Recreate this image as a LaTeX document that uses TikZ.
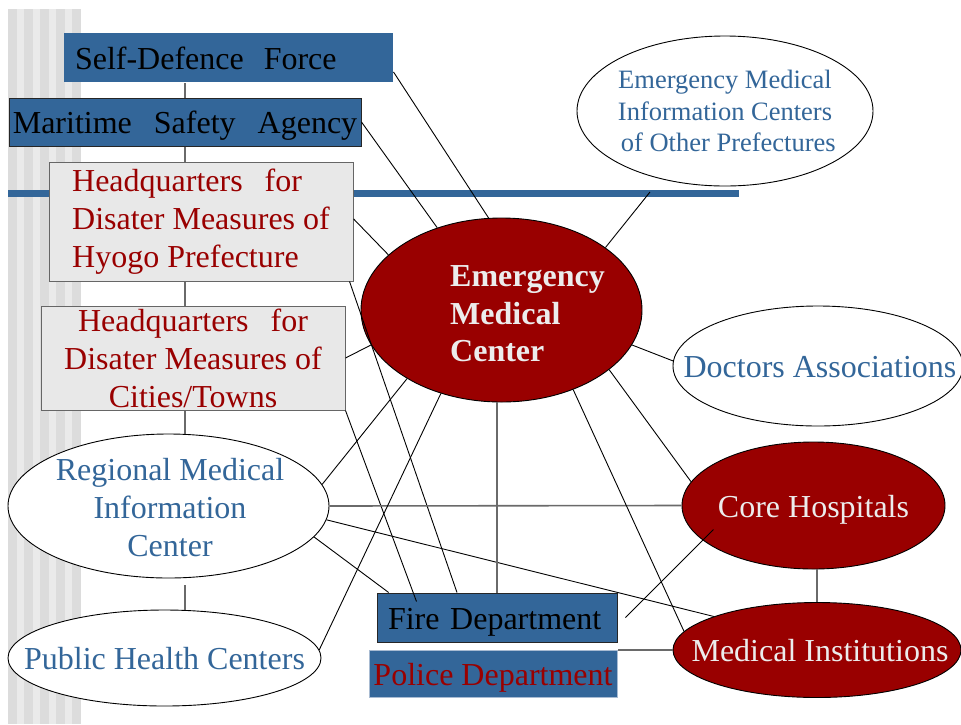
\documentclass[tikz,border=0pt]{standalone}
\usepackage{fontspec}
\setmainfont{Liberation Serif}
\usepackage{tikz}
\usetikzlibrary{shapes.geometric, calc}
\definecolor{pptblue}{HTML}{336699}
\definecolor{pptred}{HTML}{990000}
\definecolor{boxgray}{HTML}{E8E8E8}
\definecolor{stripedark}{HTML}{DCDCDC}
\definecolor{stripelight}{HTML}{EAEAEA}
\definecolor{textwhite}{HTML}{ECECEC}
\definecolor{linkgray}{HTML}{6A6A6A}
\definecolor{policeedge}{HTML}{A8BBD2}

\begin{document}
\begin{tikzpicture}[x=1pt, y=-1pt,
    font=\fontsize{32}{38}\selectfont,
    box/.style={rectangle, draw, line width=1pt, inner xsep=2pt, inner ysep=2pt},
    oneline/.style={text height=23pt, text depth=0pt},
    oval/.style={ellipse, draw=black, line width=0.9pt, inner sep=0pt},
    bluetxt/.style={text=pptblue, align=center},
    whitetxt/.style={text=textwhite, align=center},
    link/.style={draw=black, line width=0.9pt},
    chain/.style={draw=linkgray, line width=1.6pt}
]

\useasboundingbox (0,0) rectangle (961,724);
\clip (0,0) rectangle (961,724);

\fill[stripedark] (8,9) rectangle (81,724);
\foreach \x in {16.7,32.7,48.7,64.7} \fill[stripelight] (\x,9) rectangle ++(7.7,715);
\fill[pptblue] (8,190) rectangle (739,197);

\node[box, oneline, fill=pptblue, draw=none, text width=307pt, align=left, inner xsep=11pt, minimum height=49] (sdf) at (228.5,57.5) {Self-Defence\hspace{20pt}Force};
\node[box, oneline, fill=pptblue, draw=black!85, minimum width=352, minimum height=48] (msa) at (185,122) {Maritime\hspace{22pt}Safety\hspace{22pt}Agency};
\node[box, fill=boxgray, draw=black!60, text=pptred, align=left, minimum width=304, minimum height=119] (hq1) at (201,221.5) {Headquarters\hspace{22pt}for\\Disater Measures of\\Hyogo Prefecture};
\node[box, fill=boxgray, draw=black!60, text=pptred, align=center, inner ysep=0pt, minimum width=304, minimum height=104] (hq2) at (193,358) {Headquarters\hspace{22pt}for\\Disater Measures of\\Cities/Towns};

\node[oval, fill=white, minimum width=321, minimum height=144, label={[bluetxt, xshift=1.5pt, yshift=-2pt]center:{Regional Medical\\Information\\Center}}] (rmic) at (168.5,506) {};
\node[oval, fill=white, minimum width=313, minimum height=96, label={[bluetxt, oneline]center:{Public Health Centers}}] (phc) at (164.5,658) {};

\node[oval, fill=pptred, minimum width=281, minimum height=184, label={[whitetxt, align=left, font=\fontsize{32}{37.5}\selectfont\bfseries, xshift=26pt, yshift=-4pt]center:{Emergency\\Medical\\Center}}] (emc) at (501.5,310) {};
\node[oval, fill=white, minimum width=296, minimum height=150, label={[bluetxt, font=\fontsize{26.5}{31.5}\selectfont]center:{Emergency Medical\\Information Centers\\\ of Other Prefectures}}] (emio) at (725,111) {};
\node[oval, fill=white, minimum width=290, minimum height=120, label={[bluetxt, oneline, xshift=2pt]center:{Doctors Associations}}] (doc) at (818,366) {};
\node[oval, fill=pptred, minimum width=263, minimum height=127, label={[whitetxt, oneline]center:{Core Hospitals}}] (core) at (813.5,505.5) {};
\node[oval, fill=pptred, minimum width=288, minimum height=95, label={[whitetxt, oneline, xshift=3pt]center:{Medical Institutions}}] (med) at (817,650) {};

\node[box, oneline, fill=pptblue, draw=black!85, text width=218pt, align=left, inner xsep=11pt, minimum height=49] (fire) at (497,617.5) {Fire Department};
\node[box, oneline, fill=pptblue, draw=policeedge, text=pptred, minimum width=248, minimum height=47] (police) at (493,673.5) {Police Department};

\draw[chain] (msa.north) -- (msa.north |- sdf.south);
\draw[chain] (msa.south) -- (msa.south |- hq1.north);
\draw[chain] (hq1.south -| msa.south) -- (hq2.north -| msa.south);
\draw[chain] (hq2.south -| msa.south) -- (rmic.north -| msa.south);
\coordinate (phcA) at ($(phc.north -| msa.south)+(0,-25)$);
\draw[chain] (phc.north -| msa.south) -- (phcA);

\draw[link] (sdf.-5.4) -- (emc.98.3);
\draw[link] (msa.east) -- (emc.128.2);
\draw[link] (hq1.1.7) -- (emc.154.4);
\draw[link] (hq1.-22.8) -- (fire.148.5);
\draw[link] (hq2.east) -- (emc.195.5);
\coordinate (fireA) at ($(fire.north west)+(40,9)$);
\draw[link] (hq2.south east) -- (fireA);
\draw[link] (rmic.8.9) -- (emc.216.5);
\draw[chain] (rmic.east) -- (core.west);
\draw[link] (rmic.-5.7) -- (med.162);
\draw[link] (rmic.-12.5) -- (fire.167.7);
\draw[link] (phc.3.7) -- (emc.234.2);
\draw[chain] (fire.north) -- (fire.north |- emc.south);
\draw[link] (emc.-48.4) -- (med.172.8);
\draw[link] (emc.-29.2) -- (core.169.3);
\draw[link] (emc.-15.3) -- (doc.178);
\coordinate (barA) at (650,192);
\draw[link] (emc.31.5) -- (barA);
\coordinate (coreA) at ($(core.center)+(-100,24)$);
\coordinate (fireB) at ($(fire.east)+(8,0)$);
\draw[link] (coreA) -- (fireB);
\draw[chain] (med.north) -- (med.north |- core.south);
\draw[chain] (med.west) -- (med.west -| police.east);

\end{tikzpicture}
\end{document}
